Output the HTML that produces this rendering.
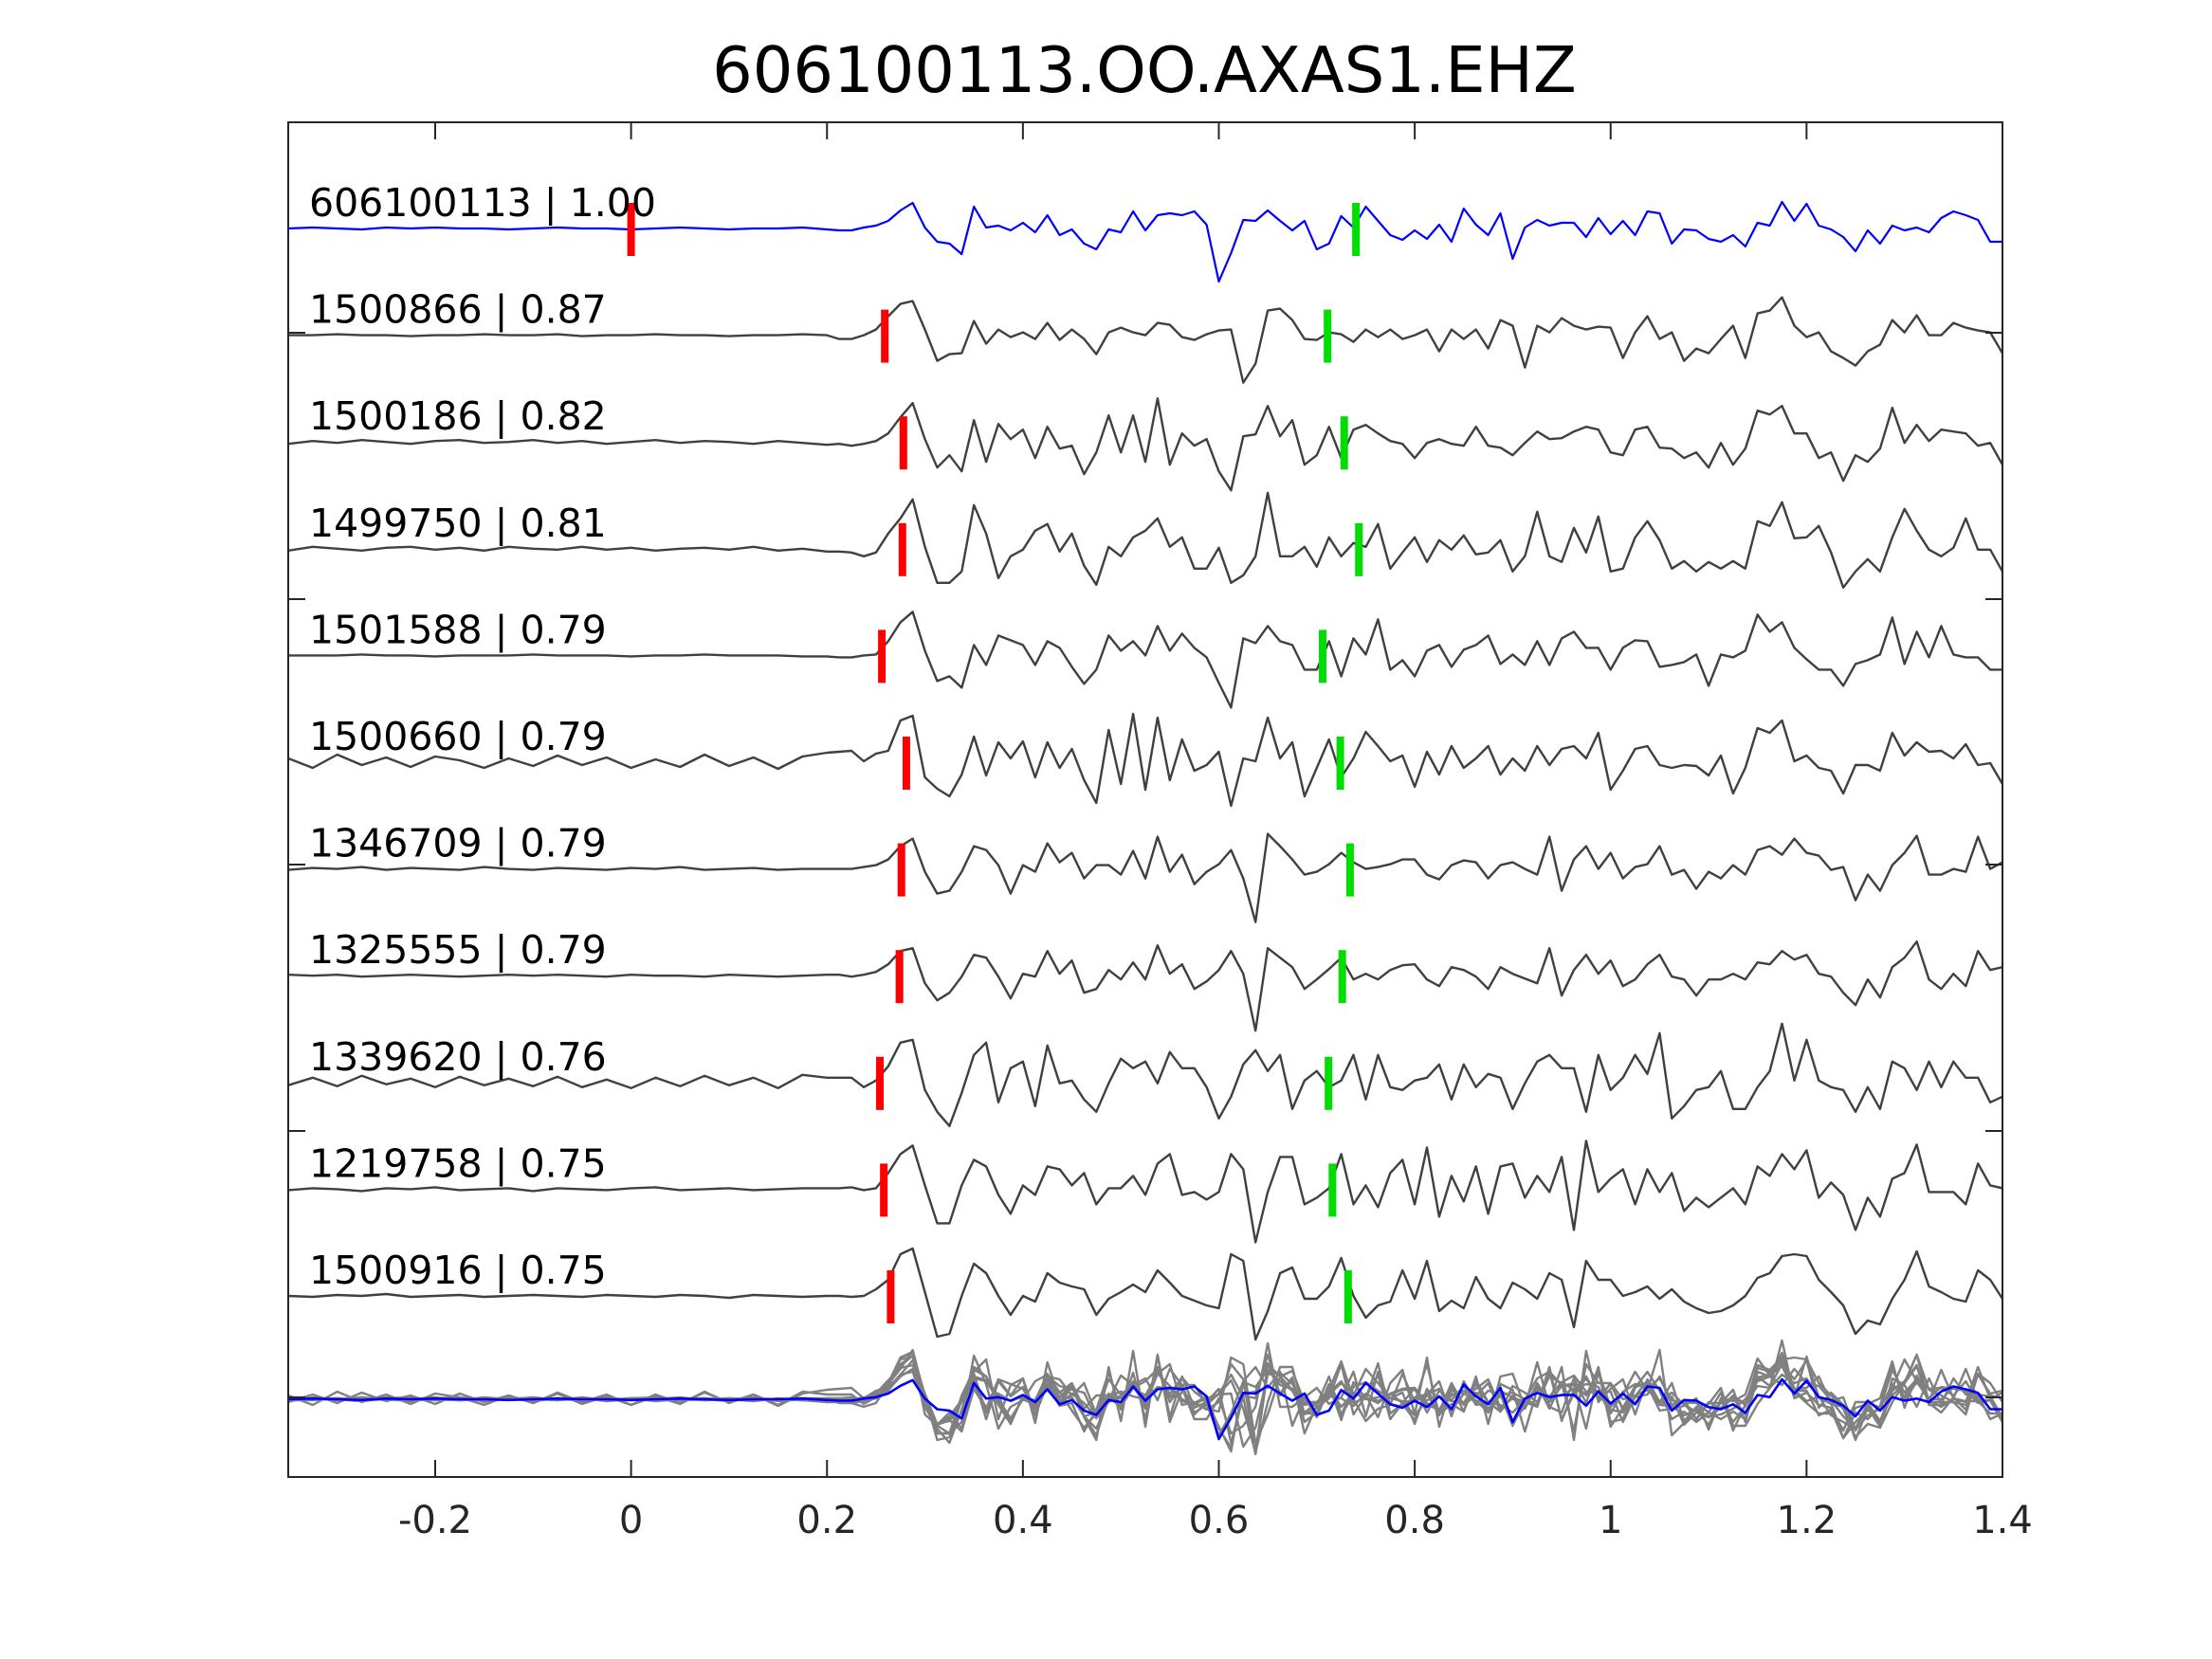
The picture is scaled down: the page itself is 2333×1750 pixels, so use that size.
<!DOCTYPE html>
<html><head><meta charset="utf-8"><title>606100113.OO.AXAS1.EHZ</title>
<style>html,body{margin:0;padding:0;background:#fff;}svg{display:block;font-family:"DejaVu Sans","Liberation Sans",sans-serif;}</style>
</head><body>
<svg id="chart" width="2333" height="1750" viewBox="0 0 2333 1750" xmlns="http://www.w3.org/2000/svg">
<defs><clipPath id="plotclip"><rect x="304" y="129" width="1808" height="1429"/></clipPath></defs>
<rect x="0" y="0" width="2333" height="1750" fill="#fff"/>
<text x="1207" y="97" font-size="67" text-anchor="middle" fill="#000">606100113.OO.AXAS1.EHZ</text>
<g id="traces" clip-path="url(#plotclip)"></g>
<g id="stack" clip-path="url(#plotclip)"></g>
<g id="picks"></g>
<g id="labels"></g>
<g id="axes"></g>
</svg>
<script>
const traceNames = ["606100113","1500866","1500186","1499750","1501588","1500660","1346709","1325555","1339620","1219758","1500916"];
const correlations = ["1.00","0.87","0.82","0.81","0.79","0.79","0.79","0.79","0.76","0.75","0.75"];
const pTimes = [0.0,0.259,0.278,0.277,0.256,0.281,0.276,0.274,0.254,0.258,0.265];
const sTimes = [0.740,0.711,0.728,0.743,0.706,0.724,0.734,0.726,0.712,0.716,0.732];
const xTicks = [-0.2,0,0.2,0.4,0.6,0.8,1,1.2,1.4];
const xTickLabels = ["-0.2","0","0.2","0.4","0.6","0.8","1","1.2","1.4"];
const preStart = -0.35, preStep = 0.025, postStart = 0.2125, postStep = 0.0125;

const pre0 = [0,1,0,-1,1,0,1,0,0,-1,0,1,0,0,-1,0,1,0,-1,0,0,1,-1];
const pre1 = [0,0,1,0,0,-1,0,0,1,0,0,1,-1,0,0,1,0,0,-1,0,0,1,0];
const pre2 = [-2,1,-1,2,0,-2,1,2,-1,0,2,-1,1,-2,0,2,-1,1,0,-2,1,-1,-3];
const pre3 = [-2,2,0,-2,1,2,-1,1,-2,2,0,-1,2,-1,1,-2,0,1,-1,2,-2,0,-3];
const pre4 = [0,0,0,1,0,0,-1,0,0,0,1,0,0,0,-1,0,0,1,0,0,0,-1,-1];
const pre5 = [4,-6,8,-3,5,-5,6,2,-6,4,-4,7,-3,5,-6,3,-5,8,-4,5,-7,6,10];
const pre6 = [-1,1,0,2,-1,1,0,-1,2,0,-1,1,0,-1,1,0,2,-1,0,1,-1,0,0];
const pre7 = [1,0,1,-1,0,1,0,-1,0,1,0,1,0,-1,1,0,0,-1,1,0,-1,0,1];
const pre8 = [-3,5,-4,7,-2,4,-5,6,-3,4,-4,6,-5,3,-6,5,-4,7,-3,5,-6,8,5];
const pre9 = [-1,1,0,-2,1,0,2,-1,0,1,-2,1,0,-1,1,2,-1,0,1,-1,0,1,1];
const pre10 = [0,-1,1,0,2,-1,0,1,-1,0,1,0,-1,1,0,-1,1,0,-2,1,0,-1,0];

const post0 = [-2,-2,1,3,8,19,27,1,-14,-16,-27,23,1,3,-2,6,-4,14,-7,-1,-16,-22,-1,-4,18,-2,14,16,14,18,4,-56,-26,9,8,19,8,-2,8,-22,-16,13,1,23,8,-7,-12,-2,-11,4,-14,21,4,-7,16,-32,1,9,3,6,6,-9,11,-6,8,-7,18,16,-16,-1,-2,-11,-14,-7,-19,6,3,28,8,26,3,-1,-9,-24,-2,-16,3,-2,1,-4,11,18,14,9,-14,-14];
const post1 = [-4,-4,0,6,20,33,36,6,-27,-20,-19,15,-9,6,-2,3,-4,13,-5,6,-4,-20,3,8,3,0,13,11,-2,-5,1,5,6,-50,-30,26,28,16,-4,-5,3,1,-7,6,-2,6,-4,0,6,-17,6,-4,6,-14,16,10,-34,10,3,18,10,6,9,8,-24,3,20,-4,3,-27,-14,-19,-4,10,-24,23,26,40,10,-2,3,-17,-24,-32,-17,-10,16,3,21,0,0,13,8,5,3,-19];
const post2 = [-2,-4,-2,1,9,26,41,3,-27,-14,-31,23,-21,19,3,13,-17,16,-7,-4,-34,-11,28,-11,28,-21,46,-24,9,-4,3,-31,-51,6,8,38,6,23,-24,-14,16,-17,13,18,9,1,-2,-17,-1,3,-2,-4,16,-4,-6,-14,-1,11,3,4,11,16,13,-11,-14,13,16,-6,-7,-17,-11,-27,-1,-24,-7,33,29,38,9,9,-17,-11,-41,-14,-21,-7,36,-1,18,1,13,11,9,-4,-1,-24];
const post3 = [-3,-4,-8,-4,16,32,52,2,-36,-36,-24,46,16,-31,-8,-1,19,26,-3,16,-18,-38,2,-8,12,19,32,2,12,-21,-21,1,-36,-28,-8,59,-8,-8,2,-19,12,-8,6,2,26,-21,-4,12,-14,9,-1,14,-6,-4,9,-24,-8,39,-8,-14,22,-4,34,-24,-21,12,29,9,-21,-13,-24,-14,-21,-13,-21,29,24,49,11,12,24,-4,-41,-24,-11,-24,12,42,19,-1,-8,1,32,-1,-1,-24];
const post4 = [-2,-2,0,1,15,35,46,5,-27,-22,-34,11,-10,21,16,11,-10,15,8,-12,-30,-15,21,5,15,0,31,5,23,8,-2,-29,-55,18,13,31,15,11,-15,-15,15,-22,18,1,38,-15,-5,-22,5,11,-12,6,11,21,-9,1,-10,15,-10,18,25,8,8,-15,8,16,15,-12,-10,-7,1,-32,1,-2,5,43,25,35,8,-4,-15,-15,-32,-9,-5,1,40,-9,25,-2,31,1,-2,-2,-15,-15];
const post5 = [11,12,1,9,12,44,49,-16,-28,-36,-13,27,-14,21,4,22,-16,21,-6,14,-19,-43,34,-23,51,-29,47,-19,24,-9,-3,11,-46,4,1,47,4,21,-36,-6,24,-16,4,32,17,1,7,-26,11,-13,17,-6,4,17,-13,4,-9,17,-3,14,17,4,31,-29,-9,14,17,-3,-6,-3,-4,-14,7,-33,-6,36,31,44,1,7,-6,-9,-33,-3,-3,-9,31,7,21,11,12,4,19,-3,-1,-23];
const post6 = [0,0,2,4,10,24,32,-3,-26,-23,-3,24,20,4,-26,4,-3,27,7,17,-10,4,4,-6,19,-10,34,-3,15,-16,-3,5,20,-10,-56,37,24,10,-6,-3,5,17,7,0,2,5,10,10,-6,-11,4,9,7,-10,4,7,0,-6,34,-23,10,24,0,17,-10,2,5,24,-6,-1,-21,-3,-10,4,-6,20,24,15,32,17,14,-1,2,-33,-6,-23,4,17,35,-6,-6,0,-3,34,0,7];
const post7 = [1,-1,1,4,12,26,29,-8,-26,-18,-1,22,19,-1,-24,2,-1,26,2,16,-18,-14,6,-4,14,-4,32,2,12,-14,-6,6,26,2,-58,29,19,9,-14,-4,7,19,-4,2,-4,6,11,12,-4,-11,9,6,-1,-14,9,2,-3,-8,29,-21,6,22,2,16,-11,-4,12,22,-1,-4,-21,-4,-4,2,-4,14,12,26,17,22,2,-1,-18,-31,-4,-23,9,19,36,-4,-14,2,-11,26,6,9];
const post8 = [5,5,-5,2,17,42,45,-8,-31,-46,-11,29,42,-21,15,22,-25,39,-1,2,-18,-31,-1,25,15,22,-1,32,15,15,-5,-38,-15,19,34,12,29,-28,2,12,-5,2,29,-18,29,-5,-8,2,5,19,-18,19,-5,9,5,-28,-1,22,29,15,15,-31,29,-8,5,29,9,52,-38,-25,-8,-5,12,-28,-28,-5,12,62,2,45,2,-5,-8,-31,-5,-28,22,15,-8,22,-5,22,5,5,-21,-15];
const post9 = [1,2,-1,1,17,37,46,4,-36,-36,4,31,24,-6,-26,4,-6,24,21,4,17,-16,1,1,14,-6,27,37,-6,-3,-11,-3,37,21,-56,-3,34,34,-16,-9,1,37,-16,4,-19,17,31,-16,44,-29,14,-13,24,-26,24,27,-9,14,-3,34,-43,51,-3,11,21,-16,21,-3,17,-23,-9,-19,-9,1,-16,24,14,37,21,41,-9,7,-6,-43,-9,-29,11,17,47,-3,-3,-3,-16,27,4,1];
const post10 = [0,-1,0,7,17,44,50,4,-43,-40,0,34,24,0,-20,0,-6,24,14,10,7,-20,-3,4,12,4,27,14,0,-5,-10,-13,44,37,-46,-16,24,30,-3,-3,10,40,0,-23,-10,-6,27,-3,37,-16,-5,-13,20,-3,-13,14,7,-3,24,17,-33,37,17,17,0,4,10,-3,7,-6,-13,-18,-16,-10,0,19,24,42,44,42,17,4,-10,-40,-26,-30,-3,17,47,10,4,-3,-6,27,17,-3];

const preData = [pre0,pre1,pre2,pre3,pre4,pre5,pre6,pre7,pre8,pre9,pre10];
const postData = [post0,post1,post2,post3,post4,post5,post6,post7,post8,post9,post10];

const NS = "http://www.w3.org/2000/svg";
const X0 = 304, X1 = 2112, Y0 = 129, Y1 = 1558, TMIN = -0.35, TMAX = 1.4;
function xScale(t){ return X0 + (t - TMIN) * (X1 - X0) / (TMAX - TMIN); }
function baseY(i){ return 241 + i * 112.6; }
const STACK_Y = 1476;

function tracePoints(i, base, gain){
  const pts = [];
  preData[i].forEach((v,k)=>{ const t = preStart + k*preStep; if (t < postStart - 1e-9) pts.push([xScale(t), base - v*gain]); });
  postData[i].forEach((v,k)=>{ const t = postStart + k*postStep; if (t <= TMAX + 1e-9) pts.push([xScale(t), base - v*gain]); });
  return pts.map((p,j)=>(j?"L":"M")+p[0].toFixed(1)+" "+p[1].toFixed(1)).join(" ");
}
function mk(tag, attrs){ const e = document.createElementNS(NS, tag); for (const k in attrs) e.setAttribute(k, attrs[k]); return e; }

const gT = document.getElementById("traces");
const gS = document.getElementById("stack");
const gP = document.getElementById("picks");
const gL = document.getElementById("labels");
const gA = document.getElementById("axes");

for (let i = 0; i < traceNames.length; i++){
  const p = mk("path", {d: tracePoints(i, baseY(i), 1), fill:"none", stroke: i===0 ? "#0000ff" : "#404040", "stroke-width": i===0 ? 2.2 : 2.4, "stroke-linejoin":"round"});
  
  
  gT.appendChild(p);

  const lab = mk("text", {x: 326, y: baseY(i) - 13, "font-size": 41, fill: "#000"});
  lab.textContent = traceNames[i] + " | " + correlations[i];
  
  
  gL.appendChild(lab);

  const rp = mk("rect", {x: xScale(pTimes[i]) - 4, y: baseY(i) - 27, width: 8, height: 56, fill: "#ff0000"});
  
  
  gP.appendChild(rp);

  const gp = mk("rect", {x: xScale(sTimes[i]) - 4, y: baseY(i) - 27, width: 8, height: 56, fill: "#00dd00"});
  
  
  gP.appendChild(gp);
}

for (let i = 1; i < traceNames.length; i++){
  const sp = mk("path", {d: tracePoints(i, STACK_Y, 1.0), fill:"none", stroke:"#808080", "stroke-width": 2.4, "stroke-linejoin":"round"});
  
  
  gS.appendChild(sp);
}
const sb = mk("path", {d: tracePoints(0, STACK_Y, 0.75), fill:"none", stroke:"#0000ff", "stroke-width": 2.6, "stroke-linejoin":"round"});


gS.appendChild(sb);

const box = mk("rect", {x: X0, y: Y0, width: X1 - X0, height: Y1 - Y0, fill: "none", stroke: "#262626", "stroke-width": 2});


gA.appendChild(box);

xTicks.forEach((t, k)=>{
  const x = xScale(t);
  const tb = mk("line", {x1: x, x2: x, y1: Y1, y2: Y1 - 18, stroke: "#262626", "stroke-width": 2});
  
  
  gA.appendChild(tb);
  const tt = mk("line", {x1: x, x2: x, y1: Y0, y2: Y0 + 18, stroke: "#262626", "stroke-width": 2});
  
  
  gA.appendChild(tt);
  const lbl = mk("text", {x: x, y: 1617, "font-size": 40, "text-anchor": "middle", fill: "#262626"});
  lbl.textContent = xTickLabels[k];
  
  
  gA.appendChild(lbl);
});

[351, 632, 912, 1193, 1474].forEach(y=>{
  const l = mk("line", {x1: X0, x2: X0 + 18, y1: y, y2: y, stroke: "#262626", "stroke-width": 2});
  
  
  gA.appendChild(l);
  const r = mk("line", {x1: X1, x2: X1 - 18, y1: y, y2: y, stroke: "#262626", "stroke-width": 2});
  
  
  gA.appendChild(r);
});
</script>
</body></html>
